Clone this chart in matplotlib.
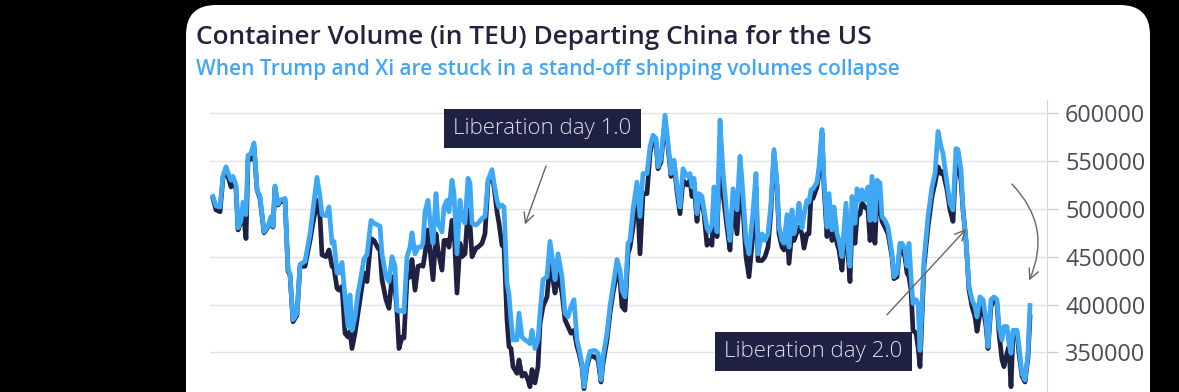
import matplotlib.pyplot as plt
from matplotlib.patches import FancyBboxPatch
from matplotlib.ticker import StrMethodFormatter

plt.rcParams['font.family'] = ['Open Sans', 'DejaVu Sans']

# time index (days from first point) and the two TEU series
t = [0, 3, 7, 10, 13, 15, 18, 20, 23, 25, 28, 30, 33, 35, 38, 41, 44, 47, 51, 55,
     58, 60, 62, 65, 67, 72, 75, 77, 80, 84, 87, 92, 97, 104, 107, 109, 113, 116, 119, 121,
     124, 126, 129, 132, 135, 137, 139, 142, 145, 148, 151, 154, 158, 161, 165, 167, 169, 173, 176, 179,
     182, 184, 186, 189, 191, 194, 197, 199, 202, 205, 208, 210, 212, 215, 217, 220, 223, 225, 229, 231,
     234, 236, 239, 241, 244, 247, 249, 252, 255, 257, 259, 263, 265, 269, 272, 275, 279, 281, 284, 286,
     289, 291, 294, 296, 298, 300, 304, 306, 309, 312, 315, 317, 319, 322, 325, 327, 330, 334, 337, 340,
     342, 345, 349, 352, 355, 358, 361, 364, 366, 369, 371, 374, 377, 382, 385, 388, 390, 394, 397, 400,
     404, 407, 409, 412, 415, 417, 420, 424, 427, 430, 434, 437, 440, 443, 445, 448, 452, 455, 458, 461,
     464, 467, 470, 474, 477, 479, 481, 484, 486, 489, 491, 494, 496, 499, 501, 504, 507, 510, 514, 517,
     520, 524, 527, 529, 533, 536, 540, 543, 545, 549, 552, 555, 558, 561, 564, 566, 569, 571, 574, 576,
     579, 581, 584, 586, 589, 591, 594, 596, 598, 600, 604, 606, 609, 611, 614, 616, 619, 621, 624, 626,
     629, 633, 635, 637, 639, 642, 644, 647, 649, 652, 655, 657, 659, 662, 664, 667, 669, 672, 675, 679,
     681, 684, 687, 689, 692, 694, 696, 698, 700, 703, 705, 707, 709, 711, 715, 719, 722, 725, 728, 730,
     734, 737, 740, 743, 745, 748, 750, 753, 756, 759, 762, 764, 767, 770, 773, 775, 778, 781, 784, 786,
     789, 791, 794, 796, 798, 800, 804, 806, 809, 812, 815, 817]

volume_light = [513000, 503000, 502000, 535000, 544000, 538000, 530000, 534000, 525000, 480000,
                488000, 507000, 494000, 556000, 558000, 569000, 520000, 513000, 476000, 482000,
                492000, 482000, 524000, 505000, 509000, 511000, 437000, 432000, 384000, 391000,
                442000, 445000, 474000, 533000, 513000, 494000, 493000, 502000, 464000, 466000,
                433000, 433000, 444000, 408000, 377000, 410000, 373000, 387000, 412000, 429000,
                448000, 452000, 488000, 485000, 483000, 482000, 453000, 429000, 424000, 450000,
                440000, 394000, 393000, 394000, 392000, 450000, 460000, 475000, 453000, 460000,
                460000, 464000, 497000, 509000, 488000, 464000, 516000, 485000, 476000, 502000,
                509000, 497000, 530000, 516000, 453000, 509000, 490000, 485000, 532000, 527000,
                485000, 483000, 485000, 490000, 492000, 530000, 541000, 527000, 509000, 502000,
                504000, 502000, 422000, 410000, 384000, 363000, 363000, 391000, 366000, 363000,
                361000, 359000, 373000, 354000, 363000, 391000, 426000, 429000, 466000, 443000,
                426000, 453000, 429000, 391000, 387000, 398000, 405000, 363000, 354000, 338000,
                314000, 338000, 351000, 352000, 349000, 321000, 345000, 370000, 398000, 419000,
                447000, 436000, 415000, 408000, 464000, 467000, 499000, 528000, 492000, 537000,
                537000, 565000, 577000, 574000, 544000, 553000, 598000, 569000, 537000, 551000,
                523000, 502000, 542000, 534000, 537000, 523000, 532000, 495000, 516000, 513000,
                499000, 480000, 476000, 483000, 523000, 476000, 593000, 539000, 492000, 467000,
                521000, 499000, 555000, 530000, 467000, 453000, 497000, 537000, 453000, 474000,
                467000, 474000, 506000, 562000, 527000, 481000, 467000, 464000, 494000, 460000,
                499000, 474000, 488000, 506000, 480000, 494000, 509000, 507000, 520000, 521000,
                528000, 544000, 583000, 530000, 481000, 516000, 478000, 502000, 474000, 467000,
                450000, 506000, 460000, 440000, 513000, 485000, 521000, 509000, 520000, 509000,
                523000, 488000, 534000, 488000, 530000, 527000, 492000, 488000, 481000, 453000,
                429000, 433000, 464000, 464000, 458000, 440000, 464000, 429000, 401000, 405000,
                401000, 352000, 398000, 447000, 492000, 523000, 537000, 581000, 565000, 558000,
                527000, 506000, 499000, 563000, 562000, 541000, 499000, 467000, 419000, 405000,
                398000, 387000, 408000, 405000, 384000, 356000, 405000, 408000, 405000, 377000,
                363000, 377000, 377000, 359000, 349000, 373000, 373000, 356000, 328000, 321000,
                349000, 399000]

volume_dark = [511000, 499000, 497000, 532000, 541000, 534000, 523000, 530000, 521000, 478000,
               487000, 499000, 469000, 551000, 552000, 565000, 520000, 511000, 475000, 481000,
               488000, 481000, 522000, 504000, 507000, 510000, 435000, 431000, 382000, 389000,
               440000, 440000, 467000, 509000, 492000, 452000, 450000, 457000, 440000, 438000,
               417000, 415000, 419000, 370000, 366000, 372000, 354000, 370000, 391000, 412000,
               433000, 424000, 469000, 467000, 459000, 457000, 426000, 405000, 396000, 429000,
               419000, 392000, 354000, 366000, 365000, 427000, 429000, 447000, 415000, 440000,
               441000, 440000, 453000, 478000, 457000, 426000, 474000, 457000, 436000, 467000,
               467000, 460000, 488000, 481000, 412000, 464000, 450000, 453000, 499000, 485000,
               450000, 459000, 460000, 464000, 474000, 527000, 535000, 523000, 497000, 485000,
               462000, 461000, 384000, 356000, 354000, 335000, 328000, 342000, 325000, 328000,
               321000, 314000, 332000, 318000, 335000, 380000, 398000, 408000, 443000, 426000,
               412000, 433000, 412000, 384000, 377000, 370000, 373000, 356000, 349000, 335000,
               312000, 335000, 347000, 345000, 342000, 319000, 338000, 363000, 391000, 412000,
               433000, 426000, 398000, 394000, 453000, 460000, 481000, 523000, 453000, 516000,
               516000, 558000, 574000, 570000, 542000, 549000, 593000, 565000, 534000, 548000,
               518000, 495000, 530000, 525000, 530000, 513000, 527000, 487000, 509000, 506000,
               495000, 462000, 467000, 462000, 509000, 471000, 562000, 516000, 481000, 457000,
               509000, 474000, 520000, 516000, 450000, 429000, 474000, 523000, 446000, 446000,
               450000, 460000, 499000, 558000, 523000, 474000, 460000, 457000, 481000, 443000,
               478000, 467000, 476000, 481000, 474000, 459000, 474000, 474000, 513000, 511000,
               523000, 537000, 579000, 523000, 471000, 502000, 467000, 488000, 464000, 457000,
               436000, 499000, 453000, 424000, 485000, 464000, 492000, 495000, 506000, 502000,
               499000, 467000, 485000, 464000, 516000, 499000, 487000, 481000, 474000, 450000,
               427000, 429000, 460000, 457000, 450000, 433000, 429000, 415000, 373000, 370000,
               356000, 335000, 387000, 440000, 481000, 513000, 527000, 544000, 537000, 539000,
               520000, 499000, 487000, 551000, 548000, 530000, 499000, 467000, 415000, 398000,
               387000, 372000, 391000, 398000, 377000, 354000, 398000, 405000, 401000, 370000,
               342000, 335000, 349000, 356000, 314000, 370000, 370000, 349000, 325000, 319000,
               345000, 387000]

yticks = [350000, 400000, 450000, 500000, 550000, 600000]

fig = plt.figure(figsize=(11.79, 3.92), dpi=100, facecolor='black')

# white rounded card behind everything
card = FancyBboxPatch((1.86, -0.6), 9.64, 4.47,
                      boxstyle='round,pad=0,rounding_size=0.3',
                      transform=fig.dpi_scale_trans,
                      facecolor='white', edgecolor='none', zorder=0)
fig.add_artist(card)

fig.text(196 / 1179, 348.5 / 392, 'Container Volume (in TEU) Departing China for the US',
         fontsize=18.9, fontweight='semibold', color='#22243f', va='baseline')
fig.text(196 / 1179, 317 / 392, 'When Trump and Xi are stuck in a stand-off shipping volumes collapse',
         fontsize=15, fontweight='semibold', color='#44a6f2', va='baseline')

ax = fig.add_axes([210 / 1179, 0, 837 / 1179, 292 / 392])
ax.set_facecolor('none')

ax.plot(t, volume_dark, color='#1f2142', lw=3.4, solid_joinstyle='round', zorder=3)
ax.plot(t, volume_light, color='#3ea8f4', lw=3.4, solid_joinstyle='round', zorder=4)

ax.set_xlim(-3, 834)
ax.set_ylim(308500, 613900)
ax.set_xticks([])
ax.yaxis.tick_right()
ax.set_yticks(yticks)
ax.yaxis.set_major_formatter(StrMethodFormatter('{x:.0f}'))
ax.tick_params(axis='y', length=8, width=1, color='#cfcfcf', labelsize=16.8,
               labelcolor='#4a4a5a', pad=5)
for side in ['left', 'top', 'bottom']:
    ax.spines[side].set_visible(False)
ax.spines['right'].set_color('#d5d5d5')
ax.grid(axis='y', color='#e2e2e2', lw=1)
ax.set_axisbelow(True)

# annotations
box = dict(boxstyle='square,pad=0.4', fc='#1f2142', ec='none')
ax.text(329.5, 583700, 'Liberation day 1.0', ha='center', va='center', fontsize=16,
        fontweight='light', color='#dcdce6', bbox=box, zorder=5)
ax.text(600.5, 350800, 'Liberation day 2.0', ha='center', va='center', fontsize=16,
        fontweight='light', color='#dcdce6', bbox=box, zorder=5)

arrow = dict(arrowstyle='->', color='#666666', lw=1, mutation_scale=18)
ax.annotate('', xy=(311, 481000), xytext=(334, 547700), arrowprops=arrow, zorder=6)
ax.annotate('', xy=(755, 481000), xytext=(672, 387000), arrowprops=arrow, zorder=6)
ax.annotate('', xy=(815, 422500), xytext=(797, 528000),
            arrowprops=dict(arrow, connectionstyle='arc3,rad=-0.35'), zorder=6)

fig.savefig('out.png', dpi=100, facecolor='black')
